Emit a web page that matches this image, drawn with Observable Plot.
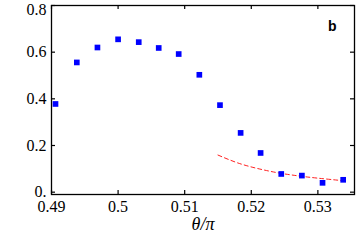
<!DOCTYPE html>
<html><head><meta charset="utf-8">
<script src="https://cdn.jsdelivr.net/npm/d3@7"></script>
<script src="https://cdn.jsdelivr.net/npm/@observablehq/plot@0.6"></script>
<style>
html,body{margin:0;padding:0;background:#fff;}
</style>
</head><body>
<div id="chart"></div>
<script>
const theta = [0.4906, 0.4938, 0.4969, 0.5000, 0.5031, 0.5061, 0.5091, 0.5122, 0.5153, 0.5184, 0.5214, 0.5245, 0.5276, 0.5307, 0.5338];
const values = [0.378, 0.556, 0.620, 0.655, 0.643, 0.618, 0.592, 0.503, 0.373, 0.254, 0.168, 0.078, 0.071, 0.040, 0.053];
const fitTheta = [0.5150, 0.5180, 0.5210, 0.5240, 0.5270, 0.5300, 0.5342];
const fitValues = [0.159, 0.125, 0.101, 0.083, 0.070, 0.060, 0.048];
const xTicks = [0.49, 0.50, 0.51, 0.52, 0.53];
const yTicks = [0, 0.2, 0.4, 0.6, 0.8];
const xLabel = "θ/π";
const panelLabel = "b";

const points = theta.map((t, i) => ({t, v: values[i]}));
const fit = fitTheta.map((t, i) => ({t, v: fitValues[i]}));

const W = 360, H = 242, mT = 5, mB = 48, mL = 51, mR = 6;
const plotH = H - mT - mB, plotW = W - mL - mR;
const tl = 4;
const serif = "Liberation Serif";
const fs = 16;
const yFmt = d => d === 0 ? "0." : d.toFixed(1);

const chart = Plot.plot({
  width: W, height: H,
  marginTop: mT, marginBottom: mB, marginLeft: mL, marginRight: mR,
  style: {fontFamily: serif, fontSize: fs + "px", color: "#000", background: "#fff"},
  x: {domain: [0.49, 0.5355]},
  y: {domain: [-0.01, 0.8]},
  marks: [
    Plot.axisX(xTicks, {tickSize: 0, tickPadding: 6, tickFormat: d => String(+d.toFixed(2)), label: null, fontSize: fs, fontFamily: serif}),
    Plot.axisY(yTicks.slice(0, -1), {tickSize: 0, tickPadding: 5, tickFormat: yFmt, label: null, fontSize: fs, fontFamily: serif}),
    Plot.axisY(yTicks.slice(-1), {tickSize: 0, tickPadding: 5, tickFormat: yFmt, label: null, fontSize: fs, fontFamily: serif, dy: 4}),
    Plot.tickX(xTicks, {x: d => d, insetTop: plotH - tl, stroke: "#000", strokeWidth: 1.2}),
    Plot.tickX(xTicks, {x: d => d, insetBottom: plotH - tl, stroke: "#000", strokeWidth: 1.2}),
    Plot.tickY(yTicks, {y: d => d, insetRight: plotW - tl, stroke: "#000", strokeWidth: 1.2}),
    Plot.tickY(yTicks, {y: d => d, insetLeft: plotW - tl, stroke: "#000", strokeWidth: 1.2}),
    Plot.frame({stroke: "#000", strokeWidth: 1.3}),
    Plot.line(fit, {x: "t", y: "v", curve: "natural", stroke: "#ff2020", strokeWidth: 1, strokeDasharray: "4,3"}),
    Plot.dot(points, {x: "t", y: "v", symbol: "square", r: 3.2, fill: "#0000ff", stroke: "none"}),
    Plot.text([xLabel], {text: d => d, frameAnchor: "bottom", dy: 35, fontStyle: "italic", fontSize: 18, fontFamily: serif}),
    Plot.text([panelLabel], {text: d => d, frameAnchor: "top-right", dx: -18, dy: 16, fontWeight: "bold", fontSize: 14, fontFamily: "Liberation Sans"})
  ]
});
document.getElementById("chart").appendChild(chart);
</script>
</body></html>
